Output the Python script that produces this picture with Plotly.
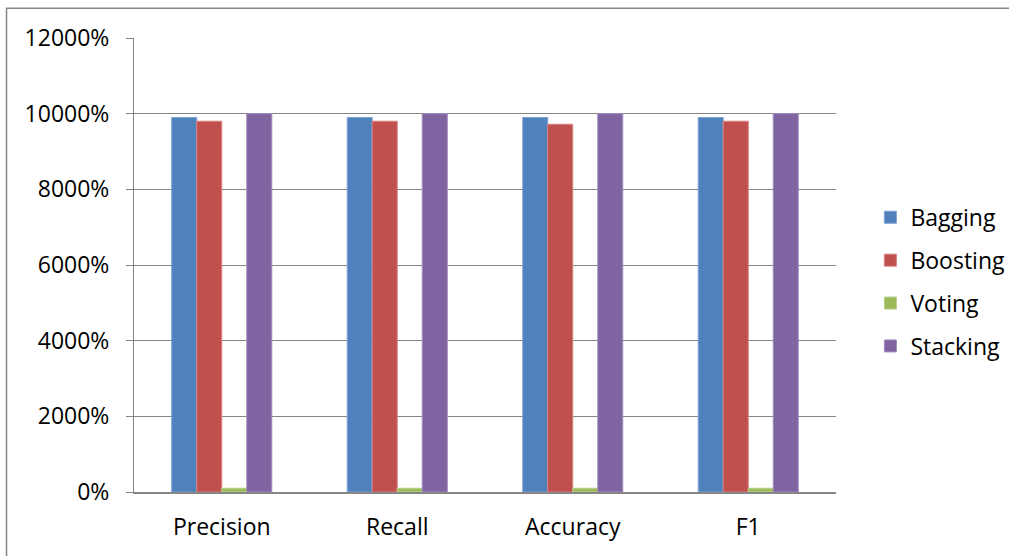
import plotly.graph_objects as go

# Ensemble method scores per metric (stored as fractions x100, shown as percent)
metrics = ["Precision", "Recall", "Accuracy", "F1"]
bagging = [99, 99, 99, 99]
boosting = [98, 98, 97.2, 98]
voting = [1, 1, 1, 1]
stacking = [100, 100, 100, 100]

series_names = ["Bagging", "Boosting", "Voting", "Stacking"]
series_values = [bagging, boosting, voting, stacking]
series_colors = ["#4F81BD", "#C0504D", "#9BBB59", "#8064A2"]
series_lines = ["#7EA1D1", "#D98280", "#B9D18A", "#A08BBE"]

y_ticks = [0, 20, 40, 60, 80, 100, 120]

FONT = "Open Sans"
FSIZE = 23

fig = go.Figure()
for name, vals, col, lc in zip(series_names, series_values, series_colors, series_lines):
    fig.add_trace(go.Bar(
        x=metrics, y=vals, name=name, legendgroup=name,
        marker=dict(color=col, line=dict(color=lc, width=1)),
    ))

fig.update_layout(
    width=1009, height=556,
    margin=dict(l=134, r=173, t=38, b=64, autoexpand=False),
    paper_bgcolor="white", plot_bgcolor="white",
    barmode="group", bargap=0.43, bargroupgap=0,
    font=dict(family=FONT, size=FSIZE, color="#000000"),
    legend=dict(
        x=1.049, xanchor="left", y=0.463, yanchor="middle",
        font=dict(family=FONT, size=FSIZE, color="#000000"),
        traceorder="grouped", tracegroupgap=10,
        itemwidth=30, bgcolor="rgba(0,0,0,0)",
    ),
    showlegend=True,
)

fig.update_xaxes(
    showline=True, linecolor="#868686", linewidth=2,
    ticks="", showgrid=False, ticklabelstandoff=13,
    tickfont=dict(family=FONT, size=FSIZE, color="#000000"),
)
fig.update_yaxes(
    range=[0, 120], tickvals=y_ticks, tickformat=".0%",
    showline=True, linecolor="#868686", linewidth=1,
    ticks="outside", ticklen=7, tickcolor="#868686",
    showgrid=True, gridcolor="#868686", gridwidth=1,
    zeroline=False, ticklabelstandoff=12,
    tickfont=dict(family=FONT, size=FSIZE, color="#000000"),
)

# Outer chart-area frame
fig.add_shape(
    type="rect", xref="paper", yref="paper",
    x0=-0.1816, x1=1.27, y0=-0.3, y1=1.0654,
    line=dict(color="#868686", width=1.5), fillcolor="rgba(0,0,0,0)",
    layer="below",
)

fig.write_html("out.html")
